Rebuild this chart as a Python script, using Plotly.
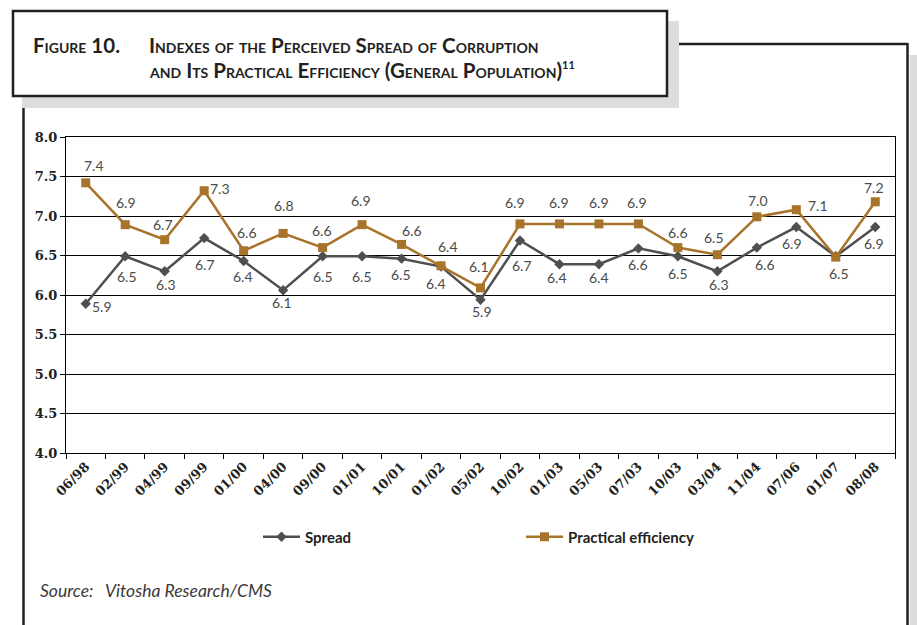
import plotly.graph_objects as go

# ---------------- data ----------------
categories = ["06/98", "02/99", "04/99", "09/99", "01/00", "04/00", "09/00",
              "01/01", "10/01", "01/02", "05/02", "10/02", "01/03", "05/03",
              "07/03", "10/03", "03/04", "11/04", "07/06", "01/07", "08/08"]
spread = [5.89, 6.49, 6.30, 6.72, 6.43, 6.06, 6.49, 6.49, 6.46, 6.36, 5.94,
          6.69, 6.39, 6.39, 6.59, 6.49, 6.30, 6.60, 6.86, 6.49, 6.86]
efficiency = [7.42, 6.89, 6.70, 7.32, 6.56, 6.78, 6.60, 6.89, 6.64, 6.37, 6.09,
              6.90, 6.90, 6.90, 6.90, 6.60, 6.51, 6.99, 7.08, 6.48, 7.18]
y_ticks = [4.0, 4.5, 5.0, 5.5, 6.0, 6.5, 7.0, 7.5, 8.0]
series_names = ["Spread", "Practical efficiency"]

# ---------------- label placement (pixel offsets, style only) ----------------
spread_label_offsets = [(16, 3), (2, 20), (1, 13), (1, 26), (-1, 15), (-1, 12),
                        (0, 20), (0, 20), (-1, 16), (-5, 17), (1, 12), (2, 25),
                        (-2, 13), (0, 13), (0, 16), (0, 17), (2, 13), (8, 17),
                        (-4, 16), (3, 17), (-1, 16)]
eff_label_offsets = [(8, -17), (1, -22), (-2, -15), (16, -2), (3, -18), (1, -28),
                     (-1, -17), (-1, -24), (10, -14), (7, -19), (-2, -21), (-5, -21),
                     (0, -21), (0, -21), (-1, -21), (0, -15), (-3, -17), (1, -16),
                     (22, -4), None, (-1, -14)]

# ---------------- layout helpers ----------------
W, H = 917, 625
L, R, T, B = 66, 895, 137, 453  # plot area in pixels


def px(x):
    return (x - L) / (R - L)


def py(y):
    return (B - y) / (B - T)


GRAY = "#4f4f51"
GOLD = "#a8732a"
INK = "#231f20"
SHADOW = "#dcdddf"
LABEL_FONT = dict(family="Lato", size=14, color="#4a4a4a")

fig = go.Figure()
fig.add_trace(go.Scatter(
    x=categories, y=spread, name=series_names[0], mode="lines+markers",
    line=dict(color=GRAY, width=2.5),
    marker=dict(symbol="diamond", size=8, color=GRAY),
    legend="legend", cliponaxis=False,
))
fig.add_trace(go.Scatter(
    x=categories, y=efficiency, name=series_names[1], mode="lines+markers",
    line=dict(color=GOLD, width=2.5),
    marker=dict(symbol="square", size=9, color=GOLD),
    legend="legend2", cliponaxis=False,
))

annotations = []
for values, offsets in ((spread, spread_label_offsets), (efficiency, eff_label_offsets)):
    for cat, v, off in zip(categories, values, offsets):
        if off is None:
            continue
        annotations.append(dict(
            x=cat, y=v, xref="x", yref="y", text=f"{v:.1f}", showarrow=False,
            xshift=off[0], yshift=-off[1], xanchor="center", yanchor="middle",
            font=LABEL_FONT))

shapes = [
    # title box shadow + box
    dict(type="rect", xref="paper", yref="paper", x0=px(22), x1=px(679),
         y0=py(108), y1=py(21), fillcolor=SHADOW, line=dict(width=0), layer="above"),
    dict(type="rect", xref="paper", yref="paper", x0=px(13), x1=px(667),
         y0=py(96), y1=py(11), fillcolor="white", line=dict(color=INK, width=2.5), layer="above"),
    # right shadow strip
    dict(type="rect", xref="paper", yref="paper", x0=px(909.5), x1=px(918),
         y0=py(630), y1=py(55), fillcolor=SHADOW, line=dict(width=0), layer="above"),
    # frame lines
    dict(type="line", xref="paper", yref="paper", x0=px(679), x1=px(908),
         y0=py(44), y1=py(44), line=dict(color=INK, width=2.5), layer="above"),
    dict(type="line", xref="paper", yref="paper", x0=px(907.5), x1=px(907.5),
         y0=py(43), y1=py(630), line=dict(color=INK, width=2.5), layer="above"),
    dict(type="line", xref="paper", yref="paper", x0=px(23.5), x1=px(23.5),
         y0=py(108), y1=py(630), line=dict(color=INK, width=2.5), layer="above"),
]

TITLE_FONT = dict(family="Lato", size=20.5, color=INK, weight=700, variant="small-caps")
annotations += [
    dict(text="Figure 10.", x=px(31), y=py(44.5), xref="paper", yref="paper",
         xanchor="left", yanchor="middle", showarrow=False, font=TITLE_FONT),
    dict(text="Indexes of the Perceived Spread of Corruption", x=px(147), y=py(44.5),
         xref="paper", yref="paper", xanchor="left", yanchor="middle",
         showarrow=False, font=TITLE_FONT),
    dict(text="and Its Practical Efficiency (General Population)"
              "<sup><span style='font-size:11px'>11</span></sup>",
         x=px(147), y=py(70), xref="paper", yref="paper", xanchor="left",
         yanchor="middle", showarrow=False, font=TITLE_FONT),
    dict(text="Source:\u00a0\u00a0\u00a0Vitosha Research/CMS", x=px(38), y=py(590),
         xref="paper", yref="paper", xanchor="left", yanchor="middle",
         showarrow=False,
         font=dict(family="Lato", size=17.5, color="#3a3a3a", style="italic")),
]

LEG_FONT = dict(family="Lato", size=15, color=INK, weight=700)
fig.update_layout(
    width=W, height=H, autosize=False,
    margin=dict(l=L, r=W - R, t=T, b=H - B, pad=0),
    paper_bgcolor="white", plot_bgcolor="white",
    showlegend=True,
    legend=dict(x=px(258), y=py(537), xanchor="left", yanchor="middle",
                orientation="h", font=LEG_FONT, bgcolor="rgba(0,0,0,0)",
                itemwidth=37),
    legend2=dict(x=px(521), y=py(537), xanchor="left", yanchor="middle",
                 orientation="h", font=LEG_FONT, bgcolor="rgba(0,0,0,0)",
                 itemwidth=37),
    shapes=shapes,
    annotations=annotations,
    xaxis=dict(type="category", categoryorder="array", categoryarray=categories,
               range=[-0.5, len(categories) - 0.5], autorange=False,
               tickson="boundaries", ticks="outside", ticklen=5, tickcolor="black",
               tickangle=-45, showgrid=False, showline=True, linecolor="black",
               linewidth=1, mirror=True, zeroline=False,
               tickfont=dict(family="DejaVu Serif", size=13, color=INK, weight=700)),
    yaxis=dict(range=[4, 8], autorange=False, tickvals=y_ticks,
               ticktext=[f"{v:.1f}" for v in y_ticks],
               ticks="outside", ticklen=5, tickcolor="black",
               showgrid=True, gridcolor="black", gridwidth=1,
               showline=True, linecolor="black", linewidth=1, mirror=True,
               zeroline=False,
               tickfont=dict(family="DejaVu Serif", size=13, color=INK, weight=700)),
)

fig.write_html(
    "out.html",
    config={"displayModeBar": False},
    post_script="document.body.style.margin='0';document.body.style.overflow='hidden';",
)
